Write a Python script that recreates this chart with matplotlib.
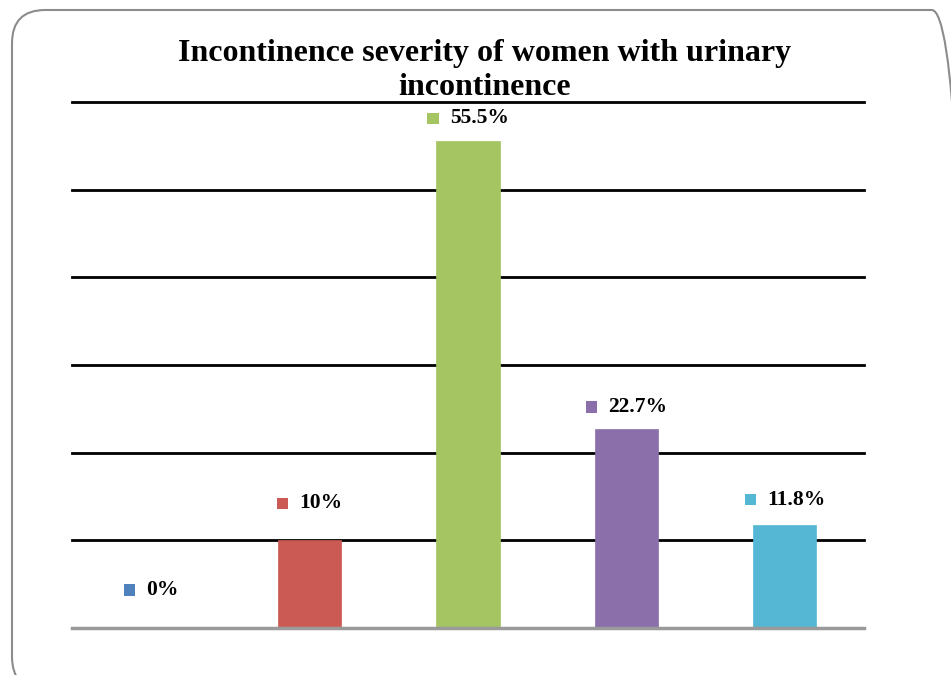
import matplotlib
matplotlib.use("Agg")
import matplotlib.pyplot as plt
from matplotlib.patches import FancyBboxPatch
from matplotlib.offsetbox import AnnotationBbox, HPacker, DrawingArea, TextArea
from matplotlib.patches import Rectangle

categories = ["None", "Slight", "Moderate", "Severe", "Very severe"]
values = [0, 10, 55.5, 22.7, 11.8]
labels = ["0%", "10%", "55.5%", "22.7%", "11.8%"]
colors = ["#4F81BD", "#CB5A55", "#A5C563", "#8B6FAA", "#55B7D3"]
title = "Incontinence severity of women with urinary\nincontinence"

FONT = "Liberation Serif"

fig = plt.figure(figsize=(9.51, 6.75), dpi=100)
W, H = 951, 675

# rounded frame
frame = FancyBboxPatch((12 / W, -15 / H), (965 - 12) / W, 680 / H,
                       boxstyle="round,pad=0,rounding_size=0.035",
                       transform=fig.transFigure, facecolor="none",
                       edgecolor="#8C8C8C", linewidth=1.5, mutation_aspect=W / H,
                       zorder=-1)
fig.patches.append(frame)

ax = fig.add_axes([72 / W, 1 - 628 / H, (864 - 72) / W, (628 - 102) / H])
ax.set_facecolor("none")
x = list(range(len(categories)))
ax.bar(x, values, width=0.4, color=colors, zorder=3,
       edgecolor=[c for c in colors], linewidth=0.5)
ax.set_xlim(-0.5, len(categories) - 0.5)
ax.set_ylim(0, 60)
for g in [10, 20, 30, 40, 50, 60]:
    ax.axhline(g, color="black", linewidth=2.0, zorder=1, clip_on=False)
for s in ["top", "left", "right"]:
    ax.spines[s].set_visible(False)
ax.spines["bottom"].set_color("#9A9A9A")
ax.spines["bottom"].set_linewidth(2.5)
ax.spines["bottom"].set_zorder(4)
ax.set_xticks([])
ax.set_yticks([])

offsets = [38, 37, 23, 22, 25]
for xi, v, lab, c, off in zip(x, values, labels, colors, offsets):
    da = DrawingArea(8, 8, 0, 0)
    da.add_artist(Rectangle((0, 0), 8, 8, facecolor=c, edgecolor="none"))
    ta = TextArea(lab, textprops=dict(fontfamily=FONT, fontweight="bold",
                                      fontsize=15.5, color="black"))
    pack = HPacker(children=[da, ta], pad=0, sep=8, align="center")
    ab = AnnotationBbox(pack, (xi, v), xybox=(0, off), xycoords="data",
                        boxcoords="offset pixels", box_alignment=(0.5, 0.5),
                        frameon=False, annotation_clip=False)
    ax.add_artist(ab)

fig.text(485 / W, 1 - 39 / H, title, ha="center", va="top",
         fontfamily=FONT, fontweight="bold", fontsize=23, linespacing=1.22)

fig.savefig("out.png", dpi=100)
